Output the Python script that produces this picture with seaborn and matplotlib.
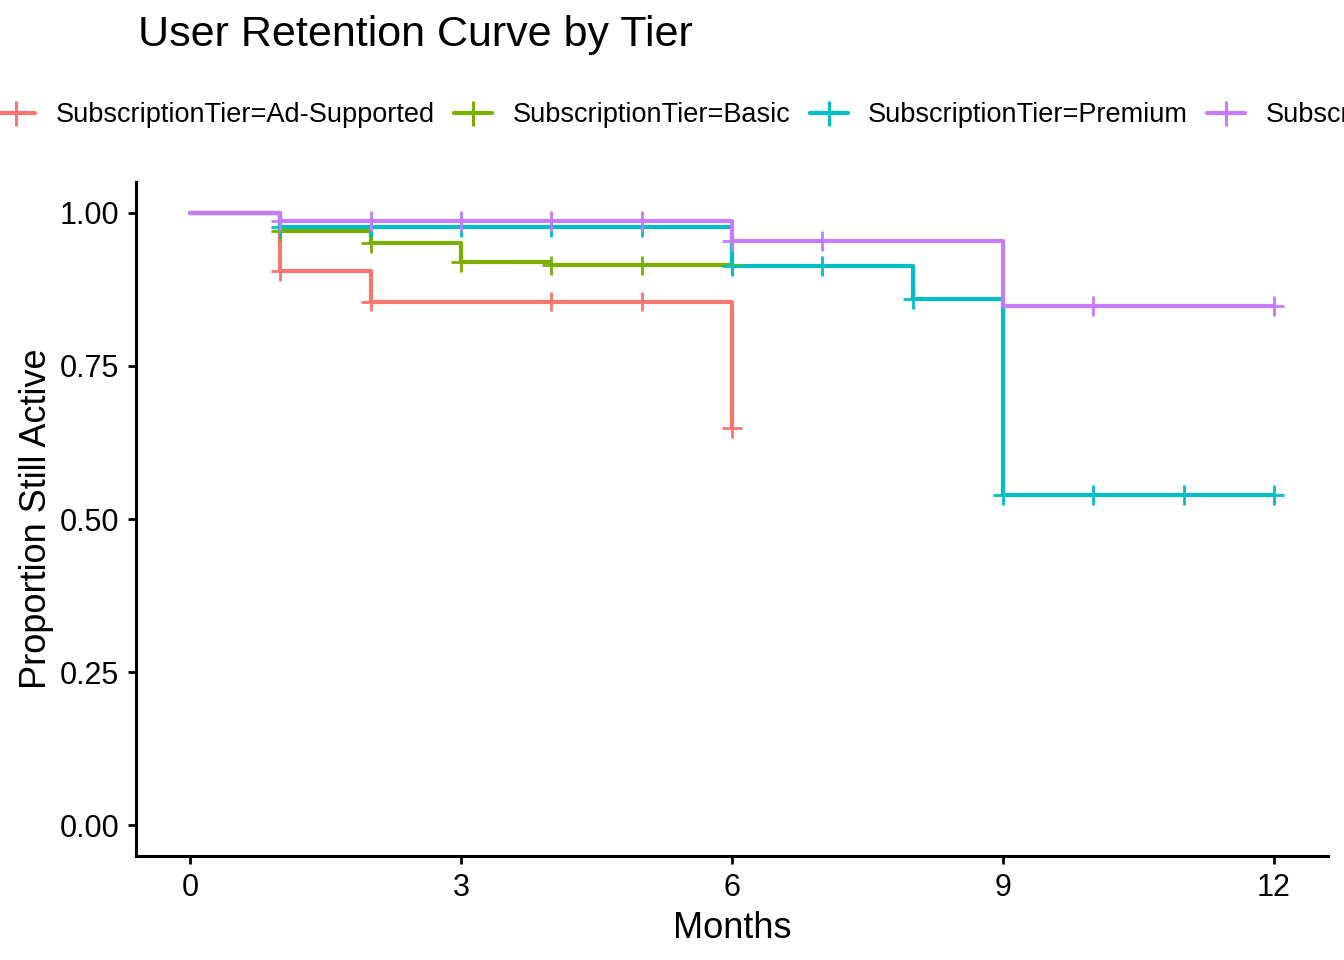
import pandas as pd
import numpy as np
import matplotlib
matplotlib.use("Agg")
import matplotlib.pyplot as plt
from matplotlib.lines import Line2D
import seaborn as sns

# tiers and colours (ggplot default hue)
tiers = ["Ad-Supported", "Basic", "Premium", "Student"]
colors = ["#F8766D", "#7CAE00", "#00BFC4", "#C77CFF"]

# step times / survival after each step, last follow-up month
step_times = {
    "Ad-Supported": [0, 1, 2],
    "Basic": [0, 1, 2, 3, 4],
    "Premium": [0, 1, 6, 8, 9],
    "Student": [0, 1, 6, 9],
}
step_surv = {
    "Ad-Supported": [1.0, 0.905, 0.855],
    "Basic": [1.0, 0.970, 0.950, 0.919, 0.914],
    "Premium": [1.0, 0.977, 0.913, 0.859, 0.539],
    "Student": [1.0, 0.986, 0.954, 0.848],
}
end_time = {"Ad-Supported": 6, "Basic": 6, "Premium": 12, "Student": 12}
end_surv = {"Ad-Supported": 0.648, "Basic": 0.914, "Premium": 0.539, "Student": 0.848}

# censoring marks (months)
censor_times = {
    "Ad-Supported": [1, 2, 4, 5, 6],
    "Basic": [1, 2, 3, 4, 5, 6],
    "Premium": [1, 2, 3, 4, 5, 6, 7, 8, 9, 10, 11, 12],
    "Student": [1, 2, 3, 4, 5, 6, 7, 10, 12],
}

FONT = ["Liberation Sans", "DejaVu Sans"]


def build_frames():
    rows, cens = [], []
    for t in tiers:
        xs = list(step_times[t]) + [end_time[t]]
        ys = list(step_surv[t]) + [end_surv[t]]
        for x, y in zip(xs, ys):
            rows.append({"Months": x, "Surv": y, "Tier": t})
        for c in censor_times[t]:
            idx = np.searchsorted(xs, c, side="right") - 1
            cens.append({"Months": c, "Surv": ys[idx], "Tier": t})
    return pd.DataFrame(rows), pd.DataFrame(cens)


def main():
    sns.set_style("white")
    plt.rcParams["font.family"] = FONT
    plt.rcParams["text.color"] = "black"
    plt.rcParams["axes.labelcolor"] = "black"

    curves, cens = build_frames()
    palette = dict(zip(tiers, colors))

    fig = plt.figure(figsize=(13.44, 9.6), dpi=100)
    ax = fig.add_axes([0.1012, 0.1083, 0.8869, 0.7021])

    sns.lineplot(data=curves, x="Months", y="Surv", hue="Tier", hue_order=tiers,
                 palette=palette, drawstyle="steps-post", estimator=None, sort=False,
                 linewidth=3, legend=False, ax=ax)
    sns.scatterplot(data=cens, x="Months", y="Surv", hue="Tier", hue_order=tiers,
                    palette=palette, marker="+", s=200, linewidth=2,
                    legend=False, ax=ax, zorder=3)

    ax.set_xlim(-0.6, 12.6)
    ax.set_ylim(-0.05, 1.05)
    ax.set_xticks([0, 3, 6, 9, 12])
    ax.set_yticks([0, 0.25, 0.5, 0.75, 1.0])
    ax.set_yticklabels([f"{v:.2f}" for v in [0, 0.25, 0.5, 0.75, 1.0]])
    ax.tick_params(axis="both", length=6, width=2, labelsize=22, pad=6,
                   color="black", labelcolor="black", bottom=True, left=True)
    for side in ["top", "right"]:
        ax.spines[side].set_visible(False)
    for side in ["left", "bottom"]:
        ax.spines[side].set_color("black")
        ax.spines[side].set_linewidth(2.2)

    ax.set_xlabel("Months", fontsize=26, labelpad=6)
    ax.set_ylabel("Proportion Still Active", fontsize=26, labelpad=4)

    fig.text(0.1025, 0.9635, "User Retention Curve by Tier", fontsize=31,
             ha="left", va="center")

    handles = [Line2D([0], [0], color=c, lw=3, marker="+", markersize=18,
                      markeredgewidth=2.2) for c in colors]
    labels = [f"SubscriptionTier={t}" for t in tiers]
    fig.legend(handles, labels, loc="center left", bbox_to_anchor=(-0.002, 0.880),
               ncol=4, frameon=False, fontsize=19.5, handlelength=1.4,
               handletextpad=0.75, columnspacing=0.72, borderpad=0, borderaxespad=0)

    fig.savefig("out.png", dpi=100)
    plt.close(fig)


if __name__ == "__main__":
    main()
